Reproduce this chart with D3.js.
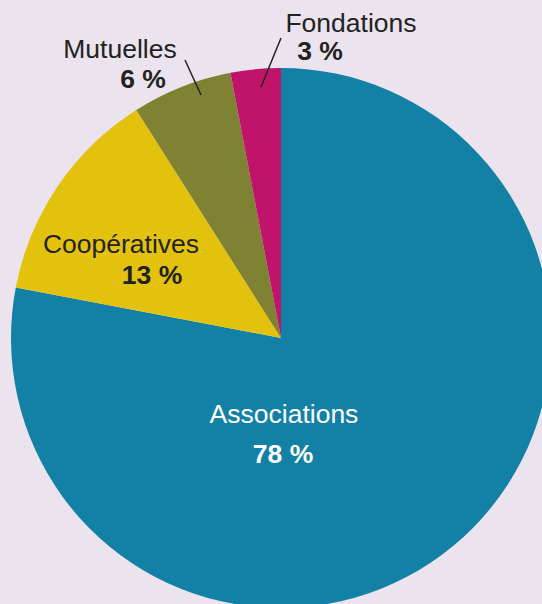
<!DOCTYPE html>
<html>
<head>
<meta charset="utf-8">
<script src="https://cdn.jsdelivr.net/npm/d3@7"></script>
<style>
  body { margin: 0; background: #ebe4ef; }
  svg { display: block; }
  text { font-family: "Liberation Sans", Arial, sans-serif; }
</style>
</head>
<body>
<div id="chart"></div>
<script>
// data
const categories = ["Associations", "Coopératives", "Mutuelles", "Fondations"];
const values = [78, 13, 6, 3];
const colors = ["#1381a6", "#e3c20d", "#7f8232", "#c0146b"];

const width = 542, height = 604;
const cx = 281, cy = 338, radius = 270;

const svg = d3.select("#chart")
  .append("svg")
    .attr("width", width)
    .attr("height", height);

const data = categories.map((c, i) => ({name: c, value: values[i], color: colors[i]}));

const pie = d3.pie()
  .sort(null)
  .value(d => d.value);

const arc = d3.arc()
  .innerRadius(0)
  .outerRadius(radius);

const g = svg.append("g")
  .attr("transform", `translate(${cx}, ${cy})`);

g.selectAll("path")
  .data(pie(data))
  .join("path")
    .attr("d", arc)
    .attr("fill", d => d.data.color);

// labels (name, percent) with positions relative to the svg
const labels = [
  {name: 0, x: 284, y: 423, px: 283, py: 463, color: "#ffffff"},
  {name: 1, x: 121, y: 253, px: 152, py: 284, color: "#222222"},
  {name: 2, x: 120, y: 58, px: 143, py: 88, color: "#222222"},
  {name: 3, x: 351, y: 32, px: 320, py: 60, color: "#222222"}
];

labels.forEach(l => {
  svg.append("text")
    .attr("x", l.x)
    .attr("y", l.y)
    .attr("text-anchor", "middle")
    .style("font-size", "26.5px")
    .style("fill", l.color)
    .text(categories[l.name]);
  svg.append("text")
    .attr("x", l.px)
    .attr("y", l.py)
    .attr("text-anchor", "middle")
    .style("font-size", "26.5px")
    .style("font-weight", "bold")
    .style("fill", l.color)
    .text(values[l.name] + " %");
});

// leader lines
const leaders = [
  [[185, 60], [201, 95]],
  [[281, 38], [261, 87]]
];
leaders.forEach(p => {
  svg.append("line")
    .attr("x1", p[0][0]).attr("y1", p[0][1])
    .attr("x2", p[1][0]).attr("y2", p[1][1])
    .attr("stroke", "#222")
    .attr("stroke-width", 1.5);
});
</script>
</body>
</html>
